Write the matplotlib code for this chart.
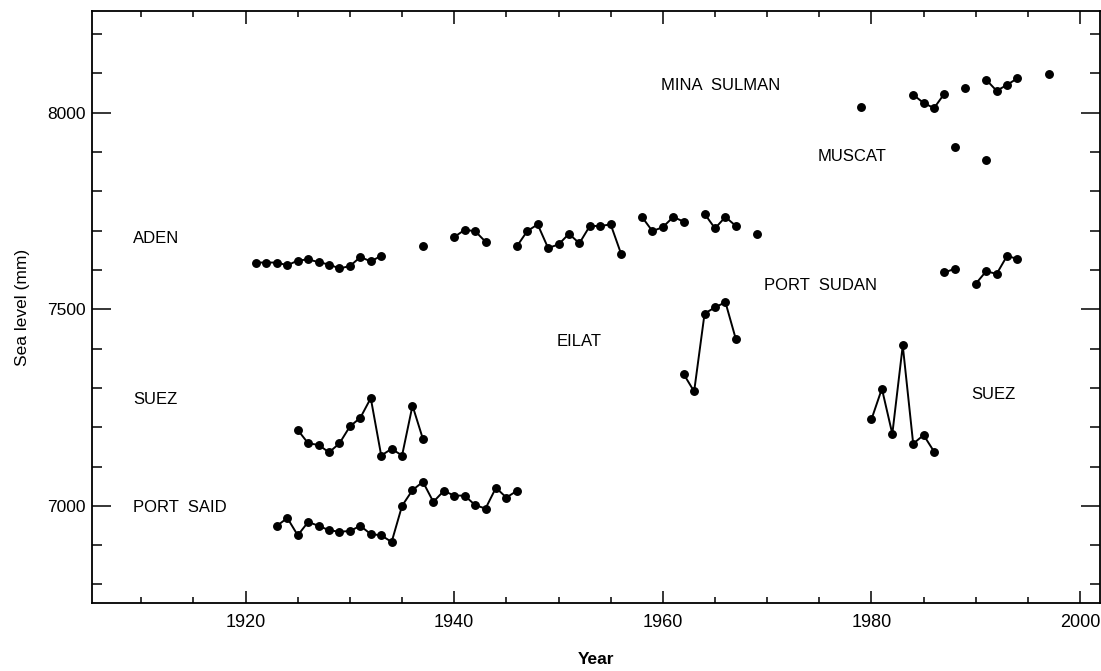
import numpy as np
import matplotlib.pyplot as plt
from matplotlib.ticker import MultipleLocator

nan = np.nan

# 各站年平均海平面 (mm)，缺测年份为 nan
aden_years = list(range(1921, 1970))
aden_mm = [7619, 7619, 7619, 7612, 7624, 7627, 7620, 7614, 7604, 7610, 7633, 7622, 7636,
           nan, nan, nan, 7660, nan, nan,
           7684, 7702, 7699, 7672,
           nan, nan,
           7660, 7699, 7716, 7656, 7665, 7692, 7668, 7712, 7712, 7716, 7641,
           nan,
           7735, 7699, 7709, 7735, 7723,
           nan,
           7743, 7706, 7735, 7712,
           nan, 7691]

suez_early_years = list(range(1925, 1938))
suez_early_mm = [7193, 7159, 7155, 7136, 7159, 7202, 7224, 7274, 7128, 7145, 7128, 7255, 7170]

port_said_years = list(range(1923, 1947))
port_said_mm = [6949, 6969, 6925, 6959, 6949, 6938, 6934, 6936, 6949, 6928, 6925, 6908,
                7000, 7040, 7061, 7010, 7038, 7026, 7026, 7002, 6993, 7046, 7021, 7038]

eilat_years = list(range(1962, 1968))
eilat_mm = [7335, 7291, 7489, 7505, 7518, 7424]

suez_late_years = list(range(1980, 1987))
suez_late_mm = [7220, 7298, 7183, 7408, 7158, 7180, 7138]

mina_sulman_years = list(range(1979, 1998))
mina_sulman_mm = [8016, nan, nan, nan, nan, 8046, 8025, 8012, 8049, nan, 8062, nan,
                  8084, 8056, 8071, 8088, nan, nan, 8099]

muscat_years = list(range(1988, 1992))
muscat_mm = [7914, nan, nan, 7879]

port_sudan_years = list(range(1987, 1995))
port_sudan_mm = [7594, 7603, nan, 7565, 7597, 7590, 7636, 7628]

series = [(aden_years, aden_mm), (suez_early_years, suez_early_mm),
          (port_said_years, port_said_mm), (eilat_years, eilat_mm),
          (suez_late_years, suez_late_mm), (mina_sulman_years, mina_sulman_mm),
          (muscat_years, muscat_mm), (port_sudan_years, port_sudan_mm)]

# 站名标注 (文字, 年, 海平面)
station_names = ['ADEN', 'SUEZ', 'PORT  SAID', 'MINA  SULMAN', 'MUSCAT',
                 'PORT  SUDAN', 'EILAT', 'SUEZ']
name_x = [1909.2, 1909.2, 1909.2, 1959.8, 1974.8, 1969.7, 1949.8, 1989.6]
name_y = [7679, 7270, 6997, 8069, 7888, 7561, 7418, 7283]

fig = plt.figure(figsize=(11.01, 6.71), dpi=100)
ax = fig.add_axes([0.0838, 0.1009, 0.9152, 0.8827])

for yrs, mm in series:
    ax.plot(yrs, mm, color='black', lw=1.4, marker='o', ms=5.4)

for name, x, y in zip(station_names, name_x, name_y):
    ax.text(x, y, name, fontsize=12, family=['Liberation Sans', 'DejaVu Sans'],
            ha='left', va='center')

ax.set_xlim(1905.3, 2001.9)
ax.set_ylim(6752, 8259)
ax.xaxis.set_major_locator(MultipleLocator(20))
ax.xaxis.set_minor_locator(MultipleLocator(5))
ax.yaxis.set_major_locator(MultipleLocator(500))
ax.yaxis.set_minor_locator(MultipleLocator(100))

ax.tick_params(which='both', direction='in', top=True, right=True, width=1.1)
ax.tick_params(axis='y', which='major', length=14, pad=5, labelsize=12.5)
ax.tick_params(axis='y', which='minor', length=7)
ax.tick_params(axis='x', which='major', length=9, pad=8, labelsize=13)
ax.tick_params(axis='x', which='minor', length=4)
for lab in ax.get_xticklabels():
    lab.set_family(['Liberation Sans Narrow', 'Liberation Sans', 'DejaVu Sans'])
for lab in ax.get_yticklabels():
    lab.set_family(['Liberation Sans', 'DejaVu Sans'])
for sp in ax.spines.values():
    sp.set_linewidth(1.3)

ax.set_ylabel('Sea level (mm)', fontsize=12.5, family=['Liberation Sans', 'DejaVu Sans'],
              labelpad=12)
ax.set_xlabel('Year', fontsize=12.5, fontweight='bold',
              family=['Liberation Sans Narrow', 'Liberation Sans', 'DejaVu Sans'],
              labelpad=15)

fig.savefig('out.png', dpi=100)
